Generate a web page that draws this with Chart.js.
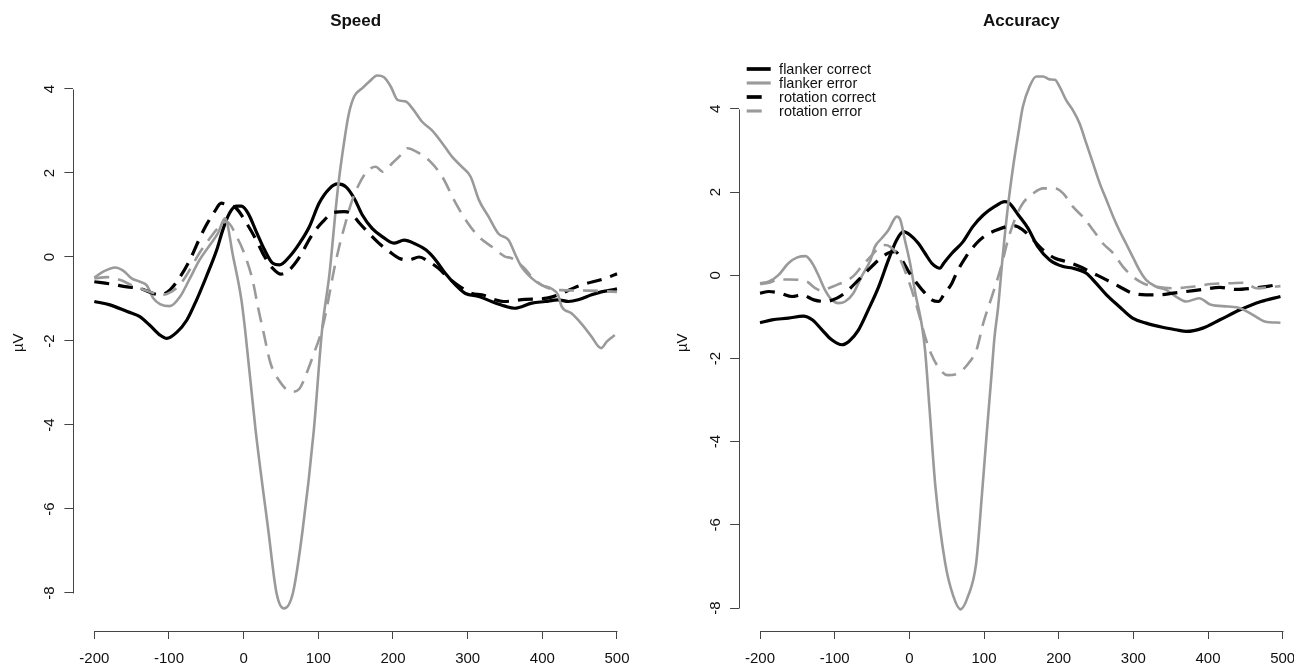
<!DOCTYPE html>
<html>
<head>
<meta charset="utf-8">
<script src="https://cdn.jsdelivr.net/npm/chart.js@4.4.1/dist/chart.umd.min.js"></script>
<style>
  html, body { margin: 0; padding: 0; background: #fff; overflow: hidden; }
  .panel { position: absolute; top: 0; width: 664px; height: 666px; }
</style>
</head>
<body>
<div class="panel" style="left:0"><canvas id="chart-speed"></canvas></div>
<div class="panel" style="left:647px"><canvas id="chart-accuracy"></canvas></div>
<script>
// Time in ms, amplitude in µV.
const seriesNames = ["flanker correct", "flanker error", "rotation correct", "rotation error"];

// --- Speed ---------------------------------------------------------------
const speedFlankerCorrectT = [-200,-179,-156,-139,-126,-112,-103,-90,-76,-63,-50,-36,-28,-19,-10,-3,6,17,28,39,48,61,75,88,101,115,126,137,148,159,172,186,201,215,230,244,257,270,284,297,315,332,350,363,386,404,421,435,448,466,479,492,500];
const speedFlankerCorrectV = [-1.06,-1.14,-1.30,-1.42,-1.62,-1.86,-1.94,-1.80,-1.50,-1.02,-0.47,0.17,0.64,1.04,1.21,1.21,1.04,0.60,0.17,-0.15,-0.19,0.00,0.33,0.72,1.28,1.63,1.74,1.67,1.40,1.00,0.68,0.48,0.33,0.40,0.31,0.17,-0.07,-0.39,-0.67,-0.87,-0.94,-1.06,-1.17,-1.22,-1.10,-1.06,-1.02,-1.06,-1.02,-0.90,-0.83,-0.79,-0.76];

const speedFlankerErrorT = [-200,-188,-172,-161,-150,-139,-130,-121,-112,-99,-85,-72,-59,-45,-34,-25,-14,-3,2,16,33,44,54,66,79,94,105,115,126,135,141,148,159,168,179,188,197,206,217,226,239,252,266,279,292,304,315,328,341,355,363,372,386,399,412,421,426,439,452,466,475,479,486,497];
const speedFlankerErrorV = [-0.49,-0.35,-0.25,-0.33,-0.51,-0.59,-0.67,-0.98,-1.12,-1.17,-0.94,-0.51,-0.07,0.29,0.58,0.92,0.00,-1.02,-1.74,-4.12,-6.50,-8.00,-8.37,-8.00,-6.50,-4.12,-1.74,-0.39,1.60,2.79,3.42,3.82,4.02,4.17,4.32,4.28,4.06,3.74,3.70,3.54,3.22,3.02,2.71,2.39,2.15,1.91,1.36,0.96,0.56,0.40,0.09,-0.23,-0.51,-0.67,-0.75,-0.90,-1.18,-1.34,-1.58,-1.90,-2.13,-2.17,-2.02,-1.86];

const speedRotationCorrectT = [-200,-179,-156,-139,-121,-112,-99,-85,-72,-59,-50,-39,-30,-21,-10,4,17,28,39,50,61,75,90,106,121,135,144,155,168,181,195,208,221,235,248,261,275,290,306,319,337,348,377,406,452,484,500];
const speedRotationCorrectV = [-0.59,-0.64,-0.71,-0.75,-0.87,-0.90,-0.79,-0.47,-0.07,0.44,0.76,1.08,1.28,1.24,1.16,0.80,0.40,0.01,-0.27,-0.41,-0.31,0.00,0.48,0.84,1.06,1.08,1.04,0.81,0.56,0.33,0.13,-0.03,-0.07,0.00,-0.11,-0.27,-0.51,-0.71,-0.87,-0.90,-1.02,-1.06,-1.01,-0.98,-0.67,-0.51,-0.40];

const speedRotationErrorT = [-200,-183,-165,-150,-132,-116,-108,-99,-85,-72,-59,-45,-34,-23,-8,4,13,19,26,36,47,64,75,86,94,102,108,115,121,128,135,144,155,166,177,186,200,210,219,235,250,266,284,299,315,332,350,359,375,390,405,425,460,500];
const speedRotationErrorV = [-0.51,-0.48,-0.55,-0.67,-0.79,-0.88,-0.90,-0.85,-0.65,-0.30,0.10,0.45,0.70,0.84,0.44,-0.07,-0.63,-1.18,-1.74,-2.53,-2.93,-3.21,-3.13,-2.69,-2.30,-1.90,-1.50,-0.87,-0.31,0.25,0.72,1.28,1.75,2.05,2.15,2.03,2.25,2.42,2.59,2.47,2.27,1.91,1.28,0.84,0.48,0.25,0.01,-0.03,-0.25,-0.55,-0.72,-0.79,-0.80,-0.83];

// --- Accuracy ------------------------------------------------------------
const accFlankerCorrectT = [-200,-184,-162,-142,-130,-117,-104,-90,-81,-68,-55,-41,-28,-17,-8,1,12,21,30,37,41,46,57,72,85,99,114,128,134,146,159,172,188,206,219,237,250,264,281,299,317,339,357,371,393,416,443,471,497];
const accFlankerCorrectV = [-1.14,-1.07,-1.03,-0.98,-1.07,-1.31,-1.55,-1.67,-1.59,-1.31,-0.83,-0.27,0.37,0.85,1.05,0.97,0.77,0.53,0.29,0.19,0.17,0.29,0.53,0.81,1.17,1.45,1.65,1.77,1.73,1.45,1.13,0.69,0.37,0.21,0.17,0.05,-0.19,-0.47,-0.75,-1.03,-1.15,-1.25,-1.31,-1.35,-1.27,-1.07,-0.83,-0.63,-0.51];

const accFlankerErrorT = [-200,-188,-175,-162,-150,-139,-130,-121,-113,-104,-95,-86,-75,-64,-52,-46,-37,-28,-21,-17,-12,-6,1,8,17,21,27,35,48,59,68.5,78.5,89.5,97,104,110,114,119,125,132,139,146,152,161,170,179,188,195,201,210,219,228,237,246,255,264,273,281,290,299,308,317,330,344,357,371,388,404,427,443,460,476,497];
const accFlankerErrorV = [-0.19,-0.15,0.01,0.29,0.43,0.46,0.29,-0.03,-0.35,-0.59,-0.67,-0.63,-0.43,-0.03,0.37,0.69,0.89,1.09,1.33,1.41,1.33,0.85,0.29,-0.43,-1.23,-1.79,-3.20,-5.10,-6.92,-7.72,-8.03,-7.72,-6.92,-5.32,-3.72,-2.40,-1.50,-0.75,0.45,1.65,2.61,3.41,4.05,4.54,4.78,4.78,4.71,4.70,4.54,4.21,3.97,3.65,3.17,2.69,2.21,1.81,1.41,1.09,0.77,0.45,0.13,-0.11,-0.27,-0.35,-0.51,-0.63,-0.55,-0.71,-0.75,-0.79,-0.95,-1.11,-1.14];

const accRotationCorrectT = [-200,-188,-173,-157,-144,-128,-113,-97,-84,-68,-55,-41,-28,-19,-10,-1,10,21,30,39,46,57,63,76,90,103,117,130,141,152,166,179,195,210,228,246,264,281,299,317,335,353,371,393,416,438,460,482,497];
const accRotationCorrectV = [-0.43,-0.39,-0.43,-0.51,-0.47,-0.59,-0.63,-0.55,-0.39,-0.11,0.13,0.37,0.54,0.57,0.37,0.09,-0.19,-0.43,-0.59,-0.63,-0.47,-0.19,0.05,0.45,0.77,0.97,1.09,1.17,1.19,1.09,0.85,0.61,0.41,0.33,0.21,0.05,-0.11,-0.27,-0.43,-0.47,-0.47,-0.43,-0.39,-0.34,-0.29,-0.34,-0.31,-0.26,-0.21];

const accRotationErrorT = [-200,-188,-175,-162,-148,-137,-126,-117,-108,-97,-86,-75,-64,-52,-41,-32,-26,-19,-12,-3,6,15,21,29,40,51,65,79,90,99,112,123,132,141,152,166,179,195,206,219,232,246,259,273,286,299,313,330,353,382,404,432,449,465,482,497];
const accRotationErrorV = [-0.21,-0.18,-0.10,-0.10,-0.11,-0.15,-0.31,-0.37,-0.31,-0.23,-0.15,-0.02,0.21,0.45,0.65,0.73,0.69,0.57,0.37,-0.03,-0.51,-1.07,-1.47,-1.88,-2.24,-2.40,-2.36,-2.12,-1.79,-1.15,-0.43,0.21,0.85,1.33,1.73,1.97,2.09,2.09,1.97,1.65,1.41,1.09,0.77,0.53,0.21,-0.03,-0.19,-0.27,-0.31,-0.27,-0.21,-0.19,-0.18,-0.31,-0.29,-0.26];

// --- Look -----------------------------------------------------------------
Chart.defaults.font.family = "'Liberation Sans', Arial, Helvetica, sans-serif";
Chart.defaults.color = "#111";

const FONT = "'Liberation Sans', Arial, Helvetica, sans-serif";
const AXIS_COLOR = "#444";
const STYLES = [
    { color: "#000000", width: 3.2, dash: [] },
    { color: "#9a9a9a", width: 2.6, dash: [] },
    { color: "#000000", width: 3.2, dash: [15, 9] },
    { color: "#9a9a9a", width: 2.6, dash: [15, 9] },
];

function makeDatasets(pairs) {
    return pairs.map(([ts, vs], i) => ({
        label: seriesNames[i],
        data: ts.map((t, k) => ({ x: t, y: vs[k] })),
        borderColor: STYLES[i].color,
        borderWidth: STYLES[i].width,
        borderDash: STYLES[i].dash,
        pointRadius: 0,
        fill: false,
        cubicInterpolationMode: "monotone",
        order: pairs.length - i,   // later series painted on top, like R
    }));
}

// R draws the axis line only between the first and last tick.
const axisLines = {
    id: "axisLines",
    afterDraw(chart) {
        const { ctx, chartArea, scales: { x, y } } = chart;
        const px = v => Math.round(v) + 0.5;
        const xt = x.ticks, yt = y.ticks;
        ctx.save();
        ctx.strokeStyle = AXIS_COLOR;
        ctx.lineWidth = 1;
        ctx.beginPath();
        ctx.moveTo(px(x.getPixelForValue(xt[0].value)), px(chartArea.bottom));
        ctx.lineTo(px(x.getPixelForValue(xt[xt.length - 1].value)), px(chartArea.bottom));
        ctx.moveTo(px(chartArea.left), px(y.getPixelForValue(yt[0].value)));
        ctx.lineTo(px(chartArea.left), px(y.getPixelForValue(yt[yt.length - 1].value)));
        ctx.stroke();
        ctx.restore();
    },
};

// Legend sits inside the Accuracy plot, top-left.
const legendBox = {
    id: "legendBox",
    afterDraw(chart, args, opts) {
        if (!opts.show) return;
        const { ctx, chartArea } = chart;
        const x0 = chartArea.left + opts.dx;
        chart.data.datasets.forEach((ds, i) => {
            const yy = opts.top + i * opts.rowH;
            ctx.save();
            ctx.strokeStyle = ds.borderColor;
            ctx.lineWidth = ds.borderWidth + 0.5;
            ctx.setLineDash(ds.borderDash);
            ctx.beginPath();
            ctx.moveTo(x0, yy);
            ctx.lineTo(x0 + opts.lineLen, yy);
            ctx.stroke();
            ctx.fillStyle = "#111";
            ctx.font = "14.5px " + FONT;
            ctx.textBaseline = "middle";
            ctx.fillText(ds.label, x0 + opts.textDx, yy + 0.5);
            ctx.restore();
        });
    },
};

function panelConfig(p) {
    return {
        type: "line",
        data: { datasets: makeDatasets(p.series) },
        options: {
            responsive: true,
            maintainAspectRatio: false,
            animation: false,
            events: [],
            layout: { padding: { left: 0, right: p.rightPad, top: 0, bottom: 0 } },
            plugins: {
                legend: { display: false },
                tooltip: { enabled: false },
                title: {
                    display: true,
                    text: p.title,
                    fullSize: false,
                    color: "#111",
                    font: { size: 17, weight: "bold", lineHeight: 1.2 },
                    padding: { top: 11.3, bottom: 22.8 },
                },
                legendBox: p.legend || { show: false },
            },
            scales: {
                x: {
                    type: "linear",
                    min: -228, max: 528,
                    border: { display: false },
                    grid: { drawOnChartArea: false, drawTicks: true, tickLength: 8, tickColor: AXIS_COLOR, tickWidth: 1 },
                    ticks: {
                        stepSize: 100, includeBounds: false, autoSkip: false,
                        maxRotation: 0, minRotation: 0, padding: 11,
                        font: { size: 15 }, color: "#111",
                    },
                    afterFit: s => { s.height = 35; s.paddingLeft = 0; s.paddingRight = 0; },
                },
                y: {
                    min: p.yMin, max: p.yMax,
                    border: { display: false },
                    grid: { drawOnChartArea: false, drawTicks: true, tickLength: 9, tickColor: AXIS_COLOR, tickWidth: 1 },
                    ticks: {
                        stepSize: 2, includeBounds: false, autoSkip: false,
                        minRotation: 90, maxRotation: 90, crossAlign: "center", padding: 8,
                        font: { size: 15 }, color: "#111",
                    },
                    title: {
                        display: true, text: "µV", color: "#111",
                        font: { size: 15 }, padding: { top: p.yTitlePad, bottom: 0 },
                    },
                    afterFit: s => { s.width = p.yWidth; s.paddingTop = 0; s.paddingBottom = 0; },
                },
            },
        },
        plugins: [axisLines, legendBox],
    };
}

new Chart(document.getElementById("chart-speed"), panelConfig({
    title: "Speed",
    series: [
        [speedFlankerCorrectT, speedFlankerCorrectV],
        [speedFlankerErrorT, speedFlankerErrorV],
        [speedRotationCorrectT, speedRotationCorrectV],
        [speedRotationErrorT, speedRotationErrorV],
    ],
    yMin: -8.905, yMax: 4.821,
    yWidth: 73.4, yTitlePad: 10, rightPad: 26.1,
}));

new Chart(document.getElementById("chart-accuracy"), panelConfig({
    title: "Accuracy",
    series: [
        [accFlankerCorrectT, accFlankerCorrectV],
        [accFlankerErrorT, accFlankerErrorV],
        [accRotationCorrectT, accRotationCorrectV],
        [accRotationErrorT, accRotationErrorV],
    ],
    yMin: -8.551, yMax: 5.308,
    yWidth: 92.1, yTitlePad: 27, rightPad: 7.4,
    legend: { show: true, dx: 7.6, top: 69, rowH: 14, lineLen: 24, textDx: 32.4 },
}));
</script>
</body>
</html>
